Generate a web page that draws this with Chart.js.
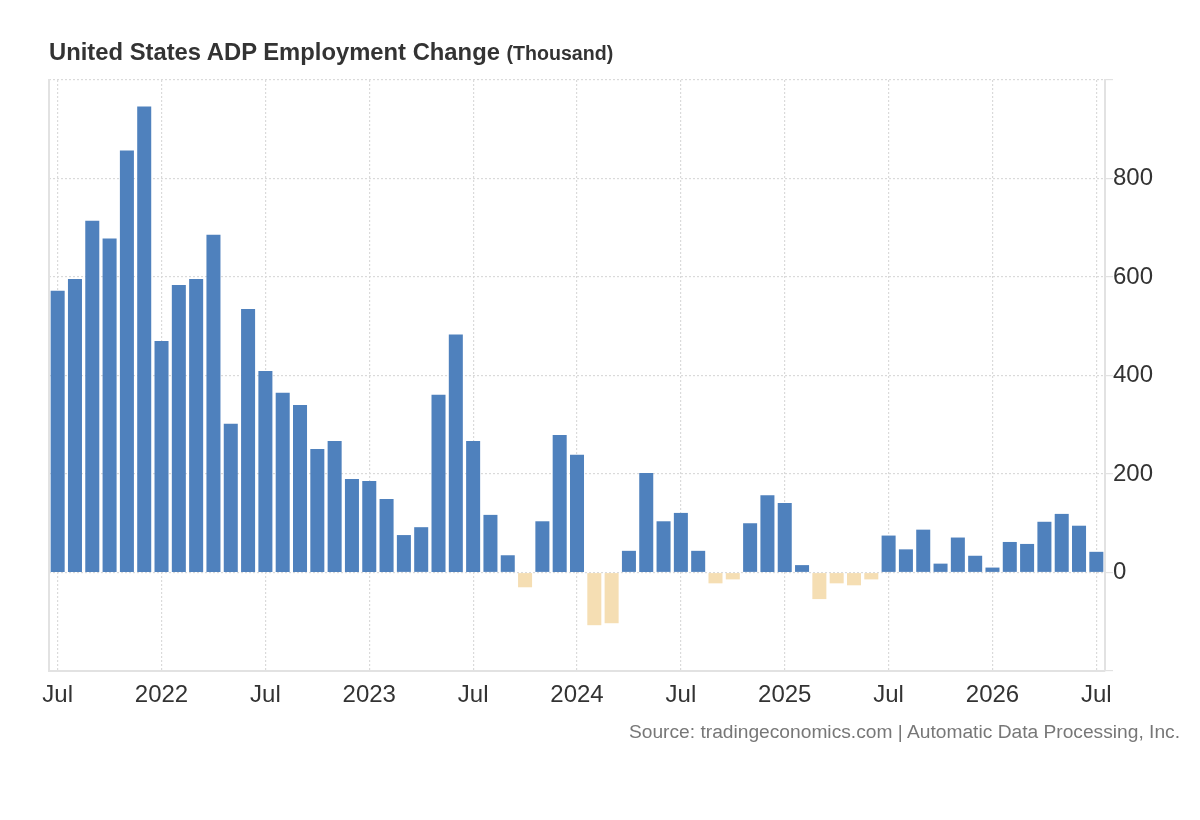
<!DOCTYPE html>
<html>
<head>
<meta charset="utf-8">
<script src="https://cdn.jsdelivr.net/npm/chart.js@4/dist/chart.umd.min.js"></script>
<style>
  html, body { margin: 0; padding: 0; background: #fff; }
  #wrap { position: relative; width: 1200px; height: 820px; font-family: "Liberation Sans", Arial, sans-serif; }
  #title { position: absolute; left: 49px; top: 38px; color: #333; font-weight: bold; font-size: 23.8px; white-space: nowrap; }
  #title span { font-size: 19.6px; }
  #source { position: absolute; right: 20px; top: 721px; color: #777; font-size: 19.2px; white-space: nowrap; }
  canvas { position: absolute; left: 0; top: 0; }
</style>
</head>
<body>
<div id="wrap">
  <canvas id="chart" width="1200" height="820"></canvas>
  <div id="title">United States ADP Employment Change <span>(Thousand)</span></div>
  <div id="source">Source: tradingeconomics.com | Automatic Data Processing, Inc.</div>
</div>
<script>
// months, Jul 2021 .. Jul 2026
const months = [
  '2021-07','2021-08','2021-09','2021-10','2021-11','2021-12',
  '2022-01','2022-02','2022-03','2022-04','2022-05','2022-06','2022-07','2022-08','2022-09','2022-10','2022-11','2022-12',
  '2023-01','2023-02','2023-03','2023-04','2023-05','2023-06','2023-07','2023-08','2023-09','2023-10','2023-11','2023-12',
  '2024-01','2024-02','2024-03','2024-04','2024-05','2024-06','2024-07','2024-08','2024-09','2024-10','2024-11','2024-12',
  '2025-01','2025-02','2025-03','2025-04','2025-05','2025-06','2025-07','2025-08','2025-09','2025-10','2025-11','2025-12',
  '2026-01','2026-02','2026-03','2026-04','2026-05','2026-06','2026-07'
];

// employment change, thousand
const change = [
  572, 596, 714, 678, 857, 946,
  470, 584, 596, 686, 302, 535, 409, 365, 340, 251, 267, 190,
  186, 149, 76, 92, 361, 483, 267, 117, 35, -30, 104, 279,
  239, -107, -103, 44, 202, 104, 121, 44, -22, -14, 100, 157,
  141, 15, -54, -22, -26, -14, 75, 47, 87, 18, 71, 34,
  10, 62, 58, 103, 119, 95, 42
];

const yTicks = [0, 200, 400, 600, 800];
const monthLabels = { '01': null, '07': 'Jul' }; // null -> year

const xLabels = months.map(m => {
  const [yr, mo] = m.split('-');
  if (!(mo in monthLabels)) return '';
  return monthLabels[mo] === null ? yr : monthLabels[mo];
});

const BLUE = '#4f81bd';
const TAN = '#f5deb3';
const GRID = '#dadada';
const AXIS = '#e2e2e2';
const TXT = '#333';
const FONT = '"Liberation Sans", Arial, sans-serif';

new Chart(document.getElementById('chart'), {
  type: 'bar',
  data: {
    labels: xLabels,
    datasets: [{
      data: change,
      backgroundColor: change.map(v => v < 0 ? TAN : BLUE),
      borderWidth: 0,
      barPercentage: 0.81,
      categoryPercentage: 1
    }]
  },
  options: {
    responsive: false,
    animation: false,
    layout: { padding: { left: 49, top: 80, right: 0, bottom: 0 } },
    plugins: { legend: { display: false }, tooltip: { enabled: false } },
    scales: {
      x: {
        offset: true,
        grid: {
          offset: false,
          drawTicks: false,
          color: ctx => (xLabels[ctx.index] ? GRID : 'rgba(0,0,0,0)'),
          lineWidth: 1.2
        },
        border: { display: true, color: AXIS, width: 2, dash: [2, 2] },
        ticks: {
          autoSkip: false,
          maxRotation: 0,
          padding: 10,
          color: TXT,
          font: { family: FONT, size: 24 }
        },
        afterFit: s => { s.height = 149; }
      },
      y: {
        position: 'right',
        min: -200,
        max: 1000,
        afterBuildTicks: s => { s.ticks = [-200].concat(yTicks, [1000]).map(v => ({ value: v })); },
        grid: {
          color: ctx => (ctx.tick && ctx.tick.value === -200 ? 'rgba(0,0,0,0)' : GRID),
          tickColor: AXIS,
          tickLength: 8,
          lineWidth: 1.2,
          tickBorderDash: []
        },
        border: { display: true, color: AXIS, width: 2, dash: [2, 2] },
        ticks: {
          padding: 0,
          color: TXT,
          font: { family: FONT, size: 24 },
          callback: v => (yTicks.includes(v) ? v : '')
        },
        afterFit: s => { s.width = 95; }
      },
      yl: {
        position: 'left',
        min: -200,
        max: 1000,
        grid: { display: false },
        ticks: { display: false },
        border: { display: true, color: AXIS, width: 2 },
        afterFit: s => { s.width = 0; }
      }
    }
  }
});
</script>
</body>
</html>
